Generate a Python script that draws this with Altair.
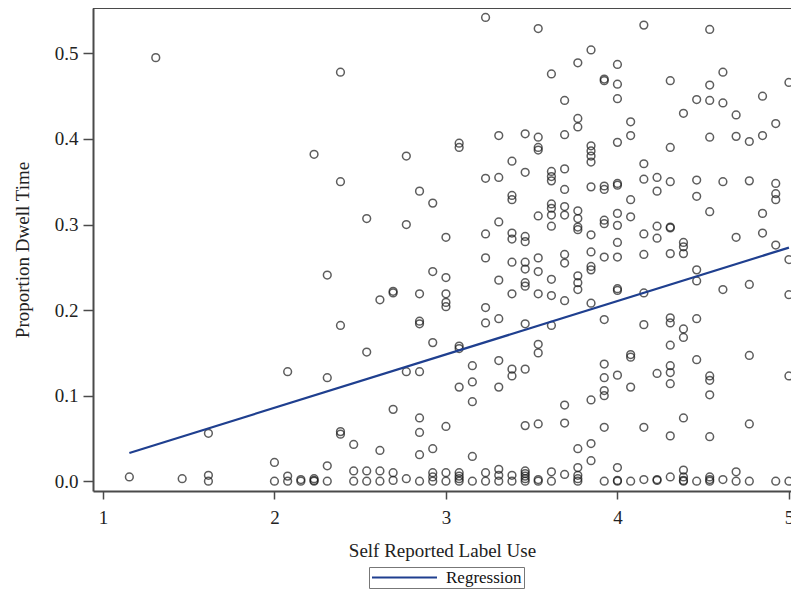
import altair as alt
import pandas as pd

# ---- data ----
label_use = [
    1.154,
    1.308,
    1.462,
    1.615, 1.615, 1.615,
    2.0, 2.0,
    2.077, 2.077, 2.077,
    2.154, 2.154,
    2.231, 2.231, 2.231, 2.231,
    2.308, 2.308, 2.308, 2.308,
    2.385, 2.385, 2.385, 2.385, 2.385,
    2.462, 2.462, 2.462,
    2.538, 2.538, 2.538, 2.538,
    2.615, 2.615, 2.615, 2.615,
    2.692, 2.692, 2.692, 2.692, 2.692,
    2.769, 2.769, 2.769, 2.769,
    2.846, 2.846, 2.846, 2.846, 2.846, 2.846, 2.846, 2.846, 2.846,
    2.923, 2.923, 2.923, 2.923, 2.923, 2.923, 2.923,
    3.0, 3.0, 3.0, 3.0, 3.0, 3.0, 3.0, 3.0,
    3.077, 3.077, 3.077, 3.077, 3.077, 3.077, 3.077, 3.077, 3.077,
    3.154, 3.154, 3.154, 3.154, 3.154,
    3.231, 3.231, 3.231, 3.231, 3.231, 3.231, 3.231, 3.231,
    3.308, 3.308, 3.308, 3.308, 3.308, 3.308, 3.308, 3.308, 3.308, 3.308,
    3.385, 3.385, 3.385, 3.385, 3.385, 3.385, 3.385, 3.385, 3.385, 3.385, 3.385,
    3.462, 3.462, 3.462, 3.462, 3.462, 3.462, 3.462, 3.462, 3.462, 3.462, 3.462, 3.462, 3.462, 3.462, 3.462, 3.462,
    3.538, 3.538, 3.538, 3.538, 3.538, 3.538, 3.538, 3.538, 3.538, 3.538, 3.538, 3.538, 3.538,
    3.615, 3.615, 3.615, 3.615, 3.615, 3.615, 3.615, 3.615, 3.615, 3.615, 3.615, 3.615, 3.615,
    3.692, 3.692, 3.692, 3.692, 3.692, 3.692, 3.692, 3.692, 3.692, 3.692, 3.692, 3.692,
    3.769, 3.769, 3.769, 3.769, 3.769, 3.769, 3.769, 3.769, 3.769, 3.769, 3.769, 3.769, 3.769, 3.769, 3.769,
    3.846, 3.846, 3.846, 3.846, 3.846, 3.846, 3.846, 3.846, 3.846, 3.846, 3.846, 3.846, 3.846, 3.846,
    3.923, 3.923, 3.923, 3.923, 3.923, 3.923, 3.923, 3.923, 3.923, 3.923, 3.923, 3.923, 3.923, 3.923,
    4.0, 4.0, 4.0, 4.0, 4.0, 4.0, 4.0, 4.0, 4.0, 4.0, 4.0, 4.0, 4.0, 4.0, 4.0, 4.0,
    4.077, 4.077, 4.077, 4.077, 4.077, 4.077, 4.077, 4.077,
    4.154, 4.154, 4.154, 4.154, 4.154, 4.154, 4.154, 4.154, 4.154,
    4.231, 4.231, 4.231, 4.231, 4.231, 4.231, 4.231,
    4.308, 4.308, 4.308, 4.308, 4.308, 4.308, 4.308, 4.308, 4.308, 4.308, 4.308, 4.308, 4.308, 4.308,
    4.385, 4.385, 4.385, 4.385, 4.385, 4.385, 4.385, 4.385, 4.385, 4.385, 4.385,
    4.462, 4.462, 4.462, 4.462, 4.462, 4.462, 4.462, 4.462,
    4.538, 4.538, 4.538, 4.538, 4.538, 4.538, 4.538, 4.538, 4.538, 4.538, 4.538, 4.538,
    4.615, 4.615, 4.615, 4.615, 4.615,
    4.692, 4.692, 4.692, 4.692, 4.692,
    4.769, 4.769, 4.769, 4.769, 4.769, 4.769,
    4.846, 4.846, 4.846, 4.846,
    4.923, 4.923, 4.923, 4.923, 4.923, 4.923,
    5.0, 5.0, 5.0, 5.0, 5.0,
]

dwell_time = [
    0.005,
    0.495,
    0.003,
    0.056, 0.007, 0.0,
    0.022, 0.0,
    0.128, 0.006, 0.0,
    0.002, 0.0,
    0.382, 0.003, 0.001, 0.0,
    0.241, 0.121, 0.018, 0.0,
    0.478, 0.350, 0.182, 0.058, 0.055,
    0.043, 0.012, 0.0,
    0.307, 0.151, 0.012, 0.0,
    0.212, 0.036, 0.012, 0.0,
    0.222, 0.220, 0.084, 0.010, 0.001,
    0.380, 0.300, 0.128, 0.003,
    0.339, 0.219, 0.187, 0.184, 0.128, 0.074, 0.057, 0.031, 0.0,
    0.325, 0.245, 0.162, 0.038, 0.010, 0.005, 0.0,
    0.285, 0.238, 0.219, 0.209, 0.204, 0.064, 0.010, 0.0,
    0.395, 0.390, 0.158, 0.155, 0.110, 0.010, 0.006, 0.003, 0.0,
    0.135, 0.116, 0.093, 0.029, 0.0,
    0.542, 0.354, 0.289, 0.261, 0.203, 0.185, 0.010, 0.0,
    0.404, 0.355, 0.303, 0.235, 0.190, 0.141, 0.110, 0.014, 0.007, 0.0,
    0.374, 0.334, 0.329, 0.290, 0.283, 0.256, 0.219, 0.131, 0.123, 0.007, 0.0,
    0.406, 0.361, 0.286, 0.280, 0.256, 0.248, 0.232, 0.228, 0.184, 0.131, 0.065, 0.012, 0.009, 0.006, 0.003, 0.0,
    0.529, 0.402, 0.390, 0.387, 0.310, 0.261, 0.245, 0.219, 0.160, 0.150, 0.067, 0.002, 0.0,
    0.476, 0.362, 0.356, 0.351, 0.324, 0.319, 0.311, 0.298, 0.236, 0.217, 0.182, 0.011, 0.0,
    0.445, 0.405, 0.365, 0.341, 0.321, 0.311, 0.265, 0.255, 0.211, 0.089, 0.068, 0.008,
    0.489, 0.424, 0.414, 0.316, 0.307, 0.297, 0.294, 0.240, 0.232, 0.224, 0.038, 0.016, 0.007, 0.003, 0.0,
    0.504, 0.392, 0.386, 0.380, 0.373, 0.344, 0.288, 0.268, 0.251, 0.247, 0.208, 0.095, 0.044, 0.024,
    0.470, 0.468, 0.345, 0.341, 0.305, 0.301, 0.262, 0.189, 0.137, 0.121, 0.106, 0.100, 0.063, 0.0,
    0.487, 0.464, 0.447, 0.396, 0.348, 0.346, 0.313, 0.299, 0.279, 0.262, 0.225, 0.223, 0.124, 0.016, 0.001, 0.0,
    0.420, 0.404, 0.329, 0.309, 0.148, 0.145, 0.110, 0.0,
    0.533, 0.371, 0.353, 0.289, 0.265, 0.220, 0.183, 0.063, 0.002,
    0.355, 0.339, 0.298, 0.284, 0.126, 0.002, 0.001,
    0.468, 0.390, 0.350, 0.297, 0.296, 0.266, 0.191, 0.185, 0.159, 0.135, 0.127, 0.114, 0.053, 0.005,
    0.430, 0.279, 0.274, 0.266, 0.178, 0.168, 0.074, 0.013, 0.005, 0.001, 0.0,
    0.446, 0.352, 0.333, 0.247, 0.234, 0.190, 0.142, 0.0,
    0.528, 0.463, 0.445, 0.402, 0.315, 0.123, 0.118, 0.101, 0.052, 0.005, 0.002, 0.0,
    0.478, 0.442, 0.350, 0.224, 0.002,
    0.428, 0.403, 0.285, 0.011, 0.0,
    0.397, 0.351, 0.230, 0.147, 0.067, 0.0,
    0.450, 0.404, 0.313, 0.290,
    0.418, 0.348, 0.336, 0.329, 0.276, 0.0,
    0.466, 0.259, 0.218, 0.123, 0.0,
]

reg_x = [1.154, 5.0]
reg_y = [0.033, 0.273]
reg_name = ["Regression", "Regression"]

x_ticks = [1, 2, 3, 4, 5]
y_ticks = [0.0, 0.1, 0.2, 0.3, 0.4, 0.5]

pts = pd.DataFrame({"x": label_use, "y": dwell_time})
reg = pd.DataFrame({"x": reg_x, "y": reg_y, "series": reg_name})
frame = pd.DataFrame({"k": [0]})

FONT = "Liberation Serif"
AX = "#4a4a4a"
W, H = 698, 483

xscale = alt.Scale(domain=[0.942, 5.012], nice=False, zero=False)
yscale = alt.Scale(domain=[-0.0114, 0.553], nice=False, zero=False)

xaxis = alt.Axis(
    title="Self Reported Label Use", values=x_ticks, format="d",
    tickSize=8, tickColor=AX, tickWidth=1.5, domainColor=AX, domainWidth=2,
    labelPadding=9, titlePadding=14, grid=False,
    labelFont=FONT, titleFont=FONT, labelFontSize=19, titleFontSize=19,
    labelColor="#222", titleColor="#222", titleFontWeight="normal",
    labelFlush=False,
)
yaxis = alt.Axis(
    title="Proportion Dwell Time", values=y_ticks, format=".1f",
    tickSize=10, tickColor=AX, tickWidth=1.5, domainColor=AX, domainWidth=2,
    labelPadding=5, titlePadding=22, grid=False,
    labelFont=FONT, titleFont=FONT, labelFontSize=19, titleFontSize=19,
    labelColor="#222", titleColor="#222", titleFontWeight="normal",
    labelFlush=False,
)

points = alt.Chart(pts).mark_point(
    shape="circle", filled=False, size=60, strokeWidth=1.5,
    color="#1a1a1a", clip=True,
).encode(
    x=alt.X("x:Q", scale=xscale, axis=xaxis),
    y=alt.Y("y:Q", scale=yscale, axis=yaxis),
)

line = alt.Chart(reg).mark_line(strokeWidth=2.2, clip=True).encode(
    x=alt.X("x:Q", scale=xscale),
    y=alt.Y("y:Q", scale=yscale),
    color=alt.Color(
        "series:N",
        scale=alt.Scale(range=["#1f3f8f"]),
        legend=alt.Legend(
            title=None, orient="none", legendX=276, legendY=559,
            strokeColor="#777777", fillColor="white", padding=2,
            symbolType="stroke", symbolSize=4225, symbolStrokeWidth=2,
            clipHeight=17,
            labelFont=FONT, labelFontSize=17, labelColor="#111",
            labelOffset=8,
        ),
    ),
)

top_line = alt.Chart(frame).mark_rule(color=AX, strokeWidth=2).encode(
    y=alt.value(0), x=alt.value(0), x2=alt.value(W),
)

chart = alt.layer(points, line, top_line).properties(
    width=W, height=H,
    padding={"left": 85, "top": 0, "right": 0, "bottom": 98},
    autosize=alt.AutoSizeParams(type="none"),
).configure_view(stroke=None)

chart.save("out.html", embed_options={"renderer": "svg", "actions": False})
